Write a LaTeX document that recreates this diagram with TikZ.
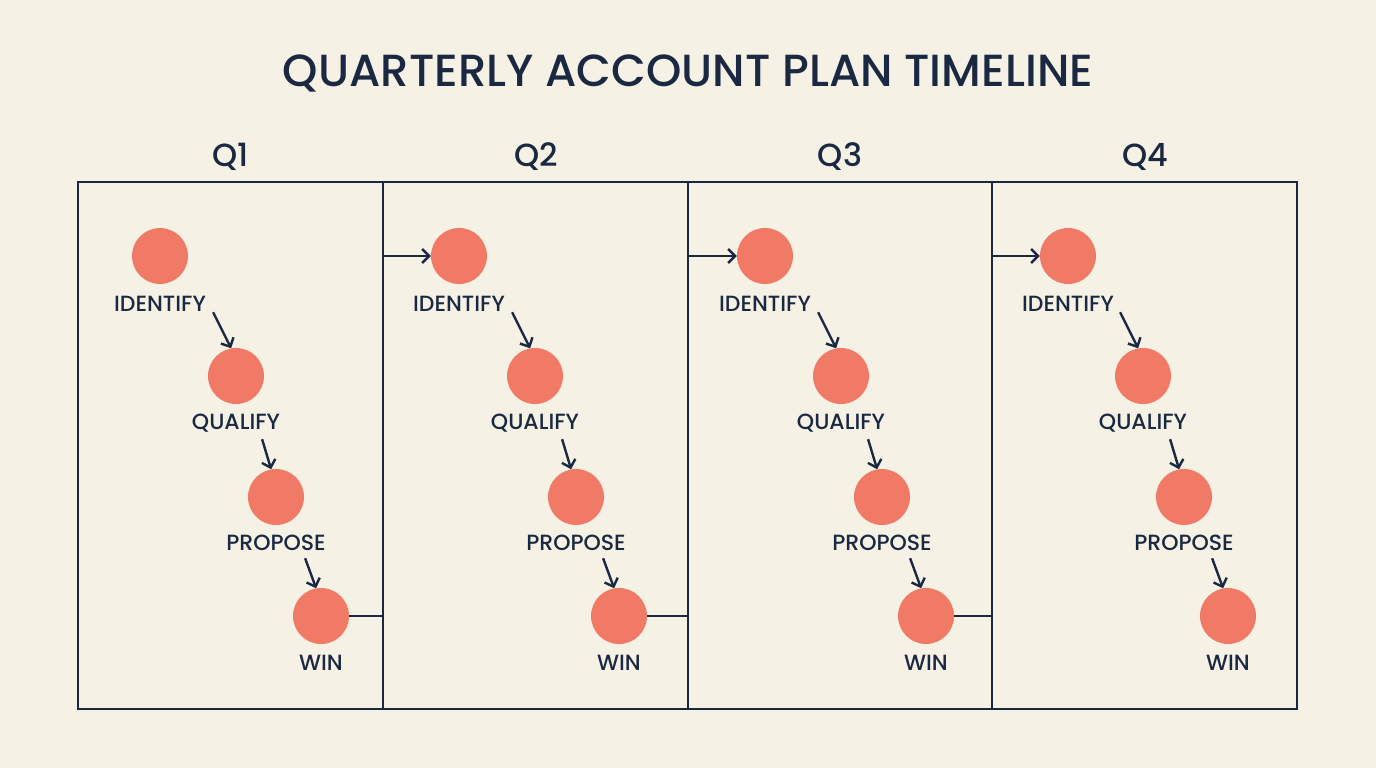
\documentclass[tikz,border=0pt]{standalone}
\usepackage{fontspec}
\IfFontExistsTF{Poppins Medium}{\setmainfont{Poppins Medium}}{\setmainfont{Poppins}[FakeBold=1.5]}
\usetikzlibrary{arrows.meta,calc}
\definecolor{bg}{RGB}{245,241,228}
\definecolor{navy}{RGB}{27,40,66}
\definecolor{coral}{RGB}{240,122,102}
\begin{document}
\begin{tikzpicture}[x=1pt,y=-1pt,
  dot/.style={circle,fill=coral,minimum size=56pt,inner sep=0pt},
  lbl/.style={text=navy,font=\fontsize{22}{24}\selectfont,inner sep=0pt,anchor=base},
  qlbl/.style={text=navy,font=\fontsize{32}{34}\selectfont,inner sep=0pt,anchor=base},
  arr/.style={draw=navy,line width=2.4pt,-{Straight Barb[length=7pt,width=14pt,line width=2.4pt]}},
  frame/.style={draw=navy,line width=1.6pt},
  link/.style={draw=navy,line width=2.2pt}]
\fill[bg] (0,0) rectangle (1376,768);
\useasboundingbox (0,0) rectangle (1376,768);
\node[text=navy,font=\fontsize{45}{48}\selectfont,inner sep=0pt,anchor=base] (title) at (688,86) {QUARTERLY ACCOUNT PLAN TIMELINE};
% panels
\draw[frame] (78,182) rectangle (1297,709);
\foreach \x in {383,688,992} \draw[frame] (\x,182) -- (\x,709);
\foreach \q/\qx/\a/\b/\c/\d in {1/231/160/236/276/321, 2/536/459/535/576/619, 3/840/765/841/882/926, 4/1145/1068/1143/1184/1228}{
  \node[qlbl] (q\q) at (\qx,166) {Q\q};
  \node[dot] (id\q) at (\a,256) {};
  \node[dot] (qu\q) at (\b,376) {};
  \node[dot] (pr\q) at (\c,497) {};
  \node[dot] (wi\q) at (\d,616) {};
  \node[lbl] (idl\q) at (\a,311) {IDENTIFY};
  \node[lbl] (qul\q) at (\b,429) {QUALIFY};
  \node[lbl] (prl\q) at (\c,550) {PROPOSE};
  \node[lbl] (wil\q) at (\d,670) {WIN};
  \draw[arr] ([shift={(-18,-36)}]qu\q.100) -- (qu\q.100);
  \draw[arr] ([shift={(-9,-30)}]pr\q.100) -- (pr\q.100);
  \draw[arr] ([shift={(-11,-30)}]wi\q.100) -- (wi\q.100);
}
\foreach \i/\j/\x in {1/2/383,2/3/688,3/4/992}{
  \draw[link] (wi\i.east) -- (\x,616) -- (\x,256);
  \draw[arr] (\x,256) -- (id\j.west);
}
\end{tikzpicture}
\end{document}
